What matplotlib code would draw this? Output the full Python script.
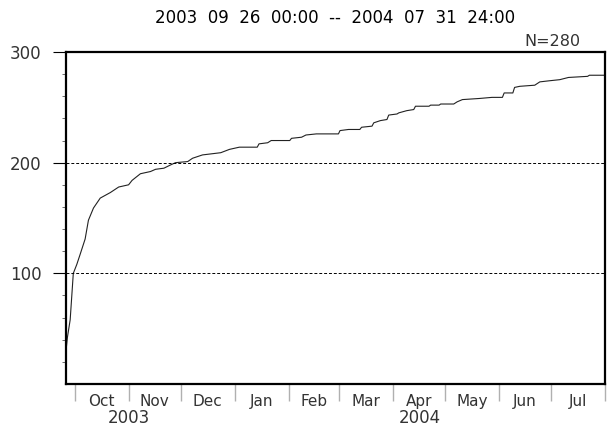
import datetime as dt
import matplotlib
matplotlib.use("Agg")
import matplotlib.pyplot as plt
import matplotlib.dates as mdates
import matplotlib.transforms as mtrans

# datos: dias desde el inicio y conteo acumulado
inicio = dt.datetime(2003, 9, 26)
fin = dt.datetime(2004, 8, 1)
dias = [0, 0.8, 2.4, 4.2, 6.2, 8.1, 11, 12.9, 15.8, 19.7, 25.5, 30.3, 36, 38,
        42.8, 48.6, 51.5, 56.3, 60.2, 63, 70, 72.8, 78.5, 89, 94, 99.7, 110,
        111, 116, 118, 128.7, 129.7, 135.5, 138, 144, 156.7, 157.6, 162.5, 169,
        170, 176, 177, 180.8, 184.6, 185.6, 190.4, 191.4, 196, 200, 201, 208.8,
        209.7, 214.6, 215.5, 223, 225, 228, 237.7, 245, 251, 252, 257, 258, 261,
        269.6, 272.5, 278, 284, 289, 300, 301, 310, 312]
conteo = [30, 42, 58, 100, 108, 117, 131, 148, 159, 168, 173, 178, 180, 184,
          190, 192, 194, 195, 198, 200, 201, 204, 207, 209, 212, 214, 214,
          217, 218, 220, 220, 222, 223, 225, 226, 226, 229, 230, 230,
          232, 233, 236, 238, 239, 243, 244, 245, 247, 248, 251, 251,
          252, 252, 253, 253, 255, 257, 258, 259, 259, 263, 263, 268, 269,
          270, 273, 274, 275, 277, 278, 279, 279, 280]

meses = ["Oct", "Nov", "Dec", "Jan", "Feb", "Mar", "Apr", "May", "Jun", "Jul"]
inicio_mes = [dt.datetime(2003, 10, 1), dt.datetime(2003, 11, 1), dt.datetime(2003, 12, 1),
              dt.datetime(2004, 1, 1), dt.datetime(2004, 2, 1), dt.datetime(2004, 3, 1),
              dt.datetime(2004, 4, 1), dt.datetime(2004, 5, 1), dt.datetime(2004, 6, 1),
              dt.datetime(2004, 7, 1), dt.datetime(2004, 8, 1)]
anios = ["2003", "2004"]
pos_anio = [dt.datetime(2003, 11, 1), dt.datetime(2004, 4, 16, 12)]

titulo = "2003  09  26  00:00  --  2004  07  31  24:00"
total = "N=280"

fechas = [inicio + dt.timedelta(days=d) for d in dias]
medio_mes = [inicio_mes[i] + (inicio_mes[i + 1] - inicio_mes[i]) / 2 for i in range(len(meses))]

fig = plt.figure(figsize=(6.12, 4.26), dpi=100)
ax = fig.add_axes([66 / 612, 42 / 426, 539 / 612, 332 / 426])

ax.plot(fechas, conteo, color="#222222", linewidth=0.8)
for g in [100, 200]:
    ax.axhline(g, color="black", linewidth=0.7, linestyle=(0, (3, 2)))

ax.set_xlim(inicio, fin)
ax.set_ylim(0, 300)

for s in ax.spines.values():
    s.set_linewidth(1.6)

# eje y
ax.set_yticks([100, 200, 300])
ax.set_yticks(range(20, 300, 20), minor=True)
ax.tick_params(axis="y", which="major", direction="out", length=9.5, width=0.8,
               pad=8, labelsize=12, labelcolor="#333333")
ax.tick_params(axis="y", which="minor", direction="out", length=3, width=0.6,
               color="#555555")

# eje x: marcas en inicio de mes, nombres al medio
ax.set_xticks(mdates.date2num(inicio_mes))
ax.set_xticklabels([])
ax.set_xticks(mdates.date2num(medio_mes), minor=True)
ax.set_xticklabels(meses, minor=True)
ax.tick_params(axis="x", which="major", direction="out", length=12, width=1.0,
               color="#b0b0b0")
ax.tick_params(axis="x", which="minor", length=0, pad=7, labelsize=11,
               labelcolor="#333333")

trans = mtrans.blended_transform_factory(ax.transData, ax.transAxes)
for a, p in zip(anios, pos_anio):
    ax.text(mdates.date2num(p), -0.102, a, transform=trans, ha="center",
            va="center", fontsize=12, color="#333333")

fig.text(335 / 612, 1 - 18 / 426, titulo, ha="center", va="center", fontsize=12)
fig.text(580 / 612, 1 - 41 / 426, total, ha="right", va="center", fontsize=11.5,
         color="#333333")

fig.savefig("out.png", dpi=100)
